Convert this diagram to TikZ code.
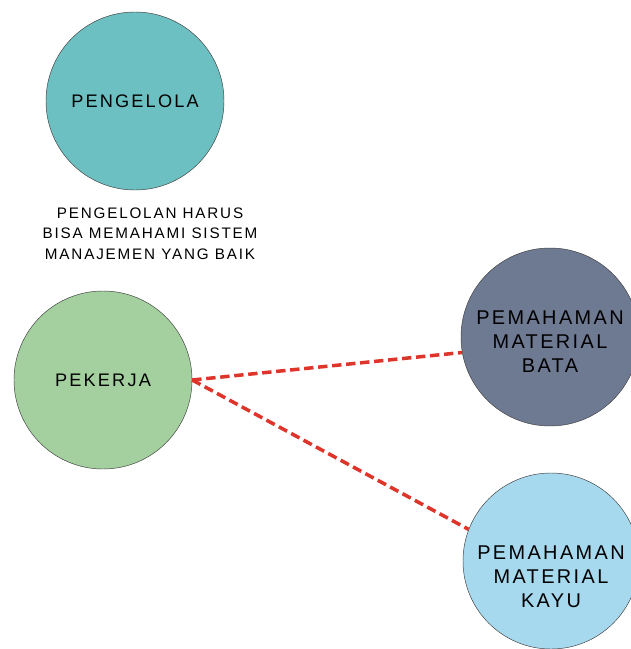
\documentclass[tikz,border=0pt]{standalone}
\usepackage{fontspec}
\setmainfont[LetterSpace=12]{Liberation Sans}
\usepackage{xcolor}
\usetikzlibrary{arrows}

\definecolor{tealc}{RGB}{108,192,194}
\definecolor{greenc}{RGB}{163,208,158}
\definecolor{slatec}{RGB}{110,121,146}
\definecolor{bluec}{RGB}{166,216,238}
\definecolor{linkred}{RGB}{222,52,42}

\tikzset{
	bubble/.style={draw=black!75, circle, minimum size=5.34cm, inner sep=0pt, align=center, font=\fontsize{15.5}{20.5}\selectfont},
	bubbletext/.style={align=center, font=\fontsize{17}{20.5}\selectfont},
	link/.style={linkred, line width=3pt, dash pattern=on 8pt off 4pt}
}

\begin{document}
\begin{tikzpicture}[x=0.03cm, y=-0.03cm]
	\useasboundingbox (0,0) rectangle (630,649);
	
	\node[bubble, fill=tealc] at (135,101) (C1){PENGELOLA};
	\node[below of=C1, node distance=3.98cm, align=center, font=\fontsize{13}{17.5}\selectfont, xshift=0.45cm](T1){PENGELOLAN HARUS\\BISA MEMAHAMI SISTEM\\MANAJEMEN YANG BAIK};
	
	\node[bubble, fill=greenc] at (103,380) (C2){PEKERJA};
	
	\node[bubble, fill=slatec] at (550,337) (M1){};
	\node[bubbletext, below of=M1, node distance=0.15cm](M1T){PEMAHAMAN\\MATERIAL\\BATA};
	\node[bubble, fill=bluec, minimum size=5.28cm] at (551,561) (M2){};
	\node[bubbletext, below of=M2, node distance=0.48cm](M2T){PEMAHAMAN\\MATERIAL\\KAYU};
	
	\draw[link] (C2.east) -- (M1.190);
	\draw[link] (C2.east) -- (M2.159);
\end{tikzpicture}
\end{document}
